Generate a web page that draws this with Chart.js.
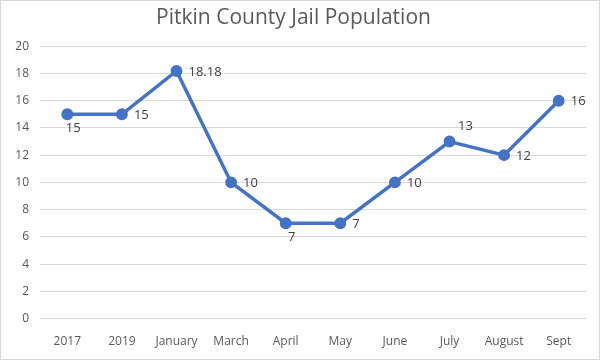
<!DOCTYPE html>
<html>
<head>
<meta charset="utf-8">
<script src="https://cdn.jsdelivr.net/npm/chart.js@4"></script>
<style>
  html, body { margin: 0; padding: 0; background: #fff; }
  #wrap { width: 600px; height: 360px; box-sizing: border-box; border: 1px solid #d9d9d9; position: relative; }
  canvas { display: block; }
</style>
</head>
<body>
<div id="wrap"><canvas id="chart" width="598" height="358"></canvas></div>
<script>
// Data
const categories = ['2017', '2019', 'January', 'March', 'April', 'May', 'June', 'July', 'August', 'Sept'];
const population = [15, 15, 18.18, 10, 7, 7, 10, 13, 12, 16];
const labelPlacement = ['below', 'right', 'right', 'right', 'below', 'right', 'right', 'above', 'right', 'right'];
const yTicks = { min: 0, max: 20, step: 2 };

const textColor = '#595959';
const fontFamily = '"Open Sans", "Noto Sans", sans-serif';

// simple data label plugin (no datalabels plugin available offline)
const pointLabels = {
    id: 'pointLabels',
    afterDatasetsDraw(chart) {
        const ctx = chart.ctx;
        const meta = chart.getDatasetMeta(0);
        ctx.save();
        ctx.fillStyle = '#404040';
        ctx.font = '13px ' + fontFamily;
        meta.data.forEach((pt, i) => {
            const txt = String(population[i]);
            const pos = labelPlacement[i];
            if (pos === 'right') {
                ctx.textAlign = 'left';
                ctx.textBaseline = 'middle';
                ctx.fillText(txt, pt.x + 12, pt.y + 1);
            } else if (pos === 'below') {
                ctx.textAlign = 'center';
                ctx.textBaseline = 'middle';
                ctx.fillText(txt, pt.x + 6, pt.y + 14);
            } else {
                ctx.textAlign = 'center';
                ctx.textBaseline = 'middle';
                ctx.fillText(txt, pt.x + 16, pt.y - 15);
            }
        });
        ctx.restore();
    }
};

const ctx = document.getElementById('chart').getContext('2d');
new Chart(ctx, {
    type: 'line',
    data: {
        labels: categories,
        datasets: [{
            data: population,
            borderColor: '#4472C4',
            backgroundColor: '#4472C4',
            borderWidth: 3.5,
            pointRadius: 4.2,
            pointHoverRadius: 4.2,
            tension: 0
        }]
    },
    options: {
        responsive: false,
        animation: false,
        layout: { padding: { left: 0, right: 13, top: 0, bottom: 2 } },
        plugins: {
            legend: { display: false },
            tooltip: { enabled: false },
            title: {
                display: true,
                text: 'Pitkin County Jail Population',
                color: textColor,
                font: { family: fontFamily, size: 21, weight: 'normal' },
                padding: { top: 4, bottom: 16 }
            }
        },
        scales: {
            x: {
                offset: true,
                grid: { display: false },
                border: { display: false },
                ticks: {
                    color: textColor,
                    font: { family: fontFamily, size: 12 },
                    padding: 8,
                    maxRotation: 0,
                    autoSkip: false
                }
            },
            y: {
                min: yTicks.min,
                max: yTicks.max,
                afterFit(scale) { scale.width = 39; },
                grid: { color: '#d9d9d9', lineWidth: 1, drawTicks: false },
                border: { display: false },
                ticks: {
                    stepSize: yTicks.step,
                    color: textColor,
                    font: { family: fontFamily, size: 12 },
                    padding: 11
                }
            }
        }
    },
    plugins: [pointLabels]
});
</script>
</body>
</html>
